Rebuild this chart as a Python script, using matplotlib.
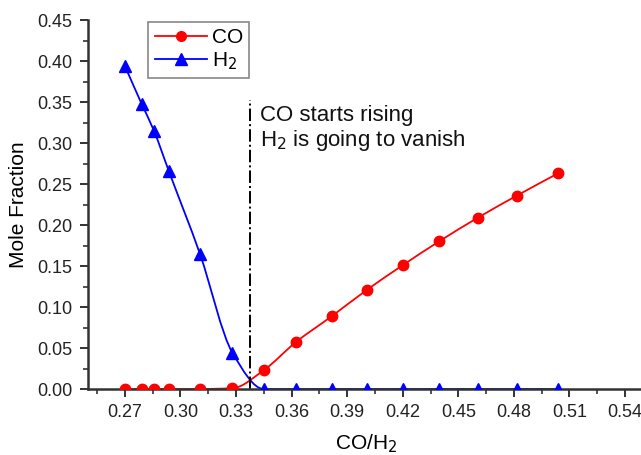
import numpy as np
import matplotlib.pyplot as plt
from matplotlib.path import Path
from matplotlib.patches import PathPatch
from matplotlib.lines import Line2D

plt.rcParams['font.family'] = ['Liberation Sans', 'DejaVu Sans']

# CO/H2 ratio and mole fractions
ratio = [0.270, 0.279, 0.2857, 0.2937, 0.3105, 0.3281, 0.345, 0.3622,
         0.3818, 0.4007, 0.420, 0.4396, 0.4606, 0.4817, 0.5038]
co = [0.000, 0.000, 0.000, 0.000, 0.000, 0.001, 0.023, 0.057,
      0.089, 0.121, 0.151, 0.180, 0.209, 0.236, 0.263]
h2 = [0.394, 0.348, 0.315, 0.266, 0.165, 0.044, 0.000, 0.000,
      0.000, 0.000, 0.000, 0.000, 0.000, 0.000, 0.000]

x_vline = 0.3375
vline_top = 0.352


def pchip_path(x, y):
    """Smooth monotone curve through the points, drawn as cubic Bezier segments."""
    x = np.asarray(x, float)
    y = np.asarray(y, float)
    h = np.diff(x)
    d = np.diff(y) / h
    m = np.zeros_like(y)
    for k in range(1, len(x) - 1):
        if d[k - 1] * d[k] > 0:
            w1 = 2 * h[k] + h[k - 1]
            w2 = h[k] + 2 * h[k - 1]
            m[k] = (w1 + w2) / (w1 / d[k - 1] + w2 / d[k])
    m[0] = d[0]
    m[-1] = d[-1]
    verts = [(x[0], y[0])]
    codes = [Path.MOVETO]
    for k in range(len(x) - 1):
        verts += [(x[k] + h[k] / 3, y[k] + m[k] * h[k] / 3),
                  (x[k + 1] - h[k] / 3, y[k + 1] - m[k + 1] * h[k] / 3),
                  (x[k + 1], y[k + 1])]
        codes += [Path.CURVE4] * 3
    return Path(verts, codes)


fig = plt.figure(figsize=(6.41, 4.55), dpi=100)
ax = fig.add_axes([0.137, 0.145, 0.867, 0.811])

ax.add_patch(PathPatch(pchip_path(ratio, co), facecolor='none', edgecolor='red', lw=1.3))
ax.add_patch(PathPatch(pchip_path(ratio, h2), facecolor='none', edgecolor='blue', lw=1.3))
ax.plot(ratio, co, 'o', color='red', ms=7.5, ls='none', zorder=3)
ax.plot(ratio, h2, '^', color='blue', ms=8.5, ls='none', zorder=3)

ax.plot([x_vline, x_vline], [0, vline_top], color='black', ls='-.', lw=1.4)
ax.text(x_vline + 0.0055, 0.346, 'CO starts rising\nH$_2$ is going to vanish',
        fontsize=16, va='top', ha='left', color='#111111', linespacing=1.1)

ax.set_xlim(0.25, 0.55)
ax.set_ylim(0, 0.45)
ax.set_xticks(np.arange(0.27, 0.541, 0.03))
ax.set_xticks(np.arange(0.255, 0.55, 0.03), minor=True)
ax.set_yticks(np.arange(0, 0.451, 0.05))
ax.set_yticks(np.arange(0.025, 0.45, 0.05), minor=True)
ax.set_xticklabels([f'{v:.2f}' for v in np.arange(0.27, 0.541, 0.03)])
ax.set_yticklabels([f'{v:.2f}' for v in np.arange(0, 0.451, 0.05)])

for side in ['top', 'right']:
    ax.spines[side].set_visible(False)
for side in ['left', 'bottom']:
    ax.spines[side].set_color('#333333')
    ax.spines[side].set_linewidth(1.8)
ax.tick_params(which='major', direction='out', length=6, width=1.4, color='#333333',
               labelsize=13, labelcolor='#222222', pad=5)
ax.tick_params(which='minor', direction='out', length=3.5, width=1.2, color='#333333')

ax.set_xlabel('CO/H$_2$', fontsize=15, labelpad=8)
ax.set_ylabel('Mole Fraction', fontsize=15, labelpad=7)

handles = [Line2D([], [], color='red', marker='o', ms=7, lw=1.3, label='CO'),
           Line2D([], [], color='blue', marker='^', ms=8, lw=1.3, label='H$_2$')]
leg = ax.legend(handles=handles, loc='upper left', bbox_to_anchor=(0.105, 1.0),
                fontsize=15, fancybox=False, framealpha=1, edgecolor='#888888',
                handlelength=2.5, borderpad=0.3, labelspacing=0.15, handletextpad=0.25,
                borderaxespad=0.1)
leg.get_frame().set_linewidth(1.2)

fig.savefig('out.png', dpi=100)
